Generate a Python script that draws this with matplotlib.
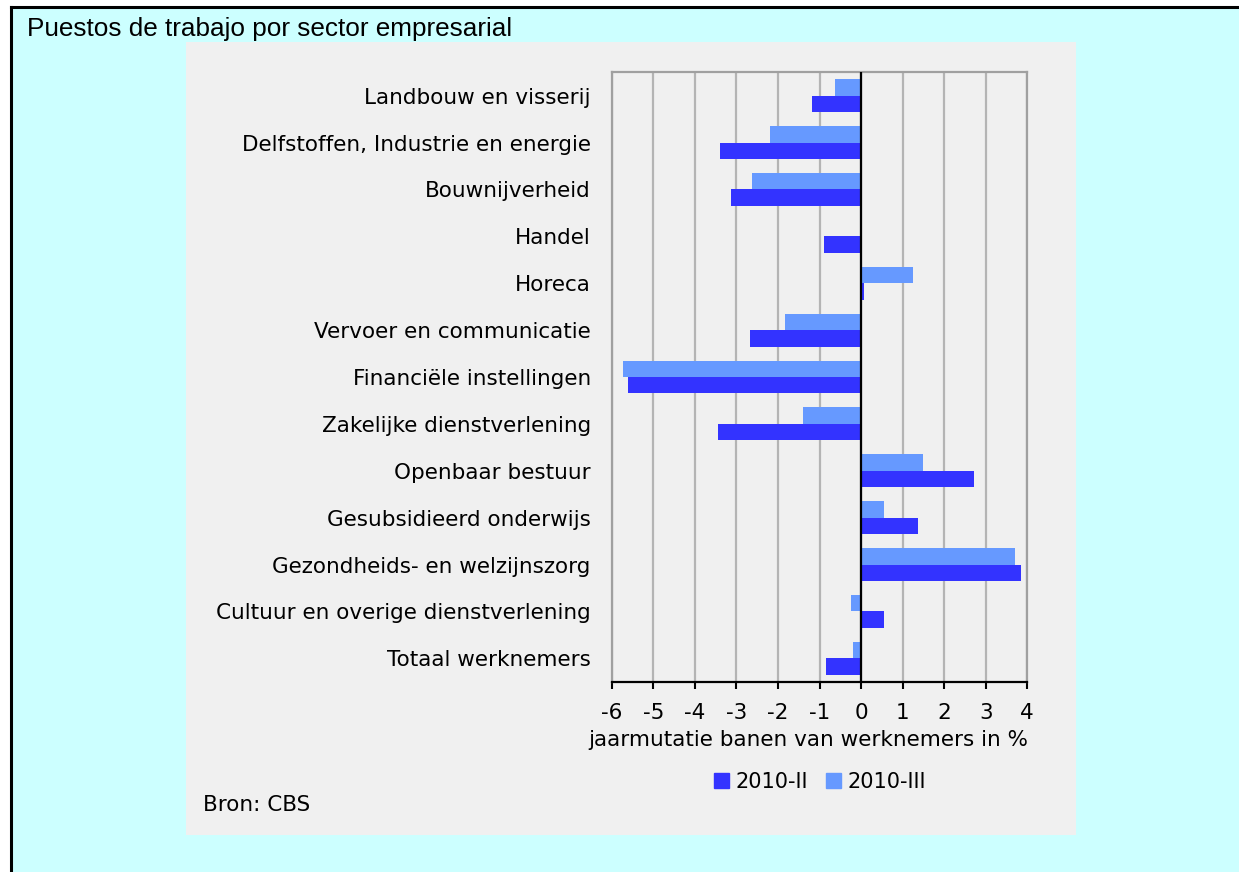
import numpy as np
import matplotlib.pyplot as plt
from matplotlib.patches import Rectangle
from matplotlib.lines import Line2D

# Data (jaarmutatie in %)
sectors = ['Landbouw en visserij',
           'Delfstoffen, Industrie en energie',
           'Bouwnijverheid',
           'Handel',
           'Horeca',
           'Vervoer en communicatie',
           'Financiële instellingen',
           'Zakelijke dienstverlening',
           'Openbaar bestuur',
           'Gesubsidieerd onderwijs',
           'Gezondheids- en welzijnszorg',
           'Cultuur en overige dienstverlening',
           'Totaal werknemers']
q2_2010 = [-1.17, -3.39, -3.12, -0.89, 0.07, -2.68, -5.61, -3.45, 2.72, 1.37, 3.86, 0.55, -0.84]
q3_2010 = [-0.63, -2.19, -2.63, 0.0, 1.26, -1.82, -5.72, -1.39, 1.48, 0.55, 3.70, -0.25, -0.19]
series_names = ['2010-II', '2010-III']
xticks = [-6, -5, -4, -3, -2, -1, 0, 1, 2, 3, 4]

W, H = 1239, 872
DARK = '#3333ff'
LIGHT = '#6699ff'
PANEL = '#f0f0f0'
FONT = 'DejaVu Sans'
FS = 15.5

fig = plt.figure(figsize=(W / 100, H / 100), dpi=100)
fig.patch.set_facecolor('white')

# cyan background with black border on top and left
fig.add_artist(Rectangle((11 / W, 0), 1, 1 - 8 / H, transform=fig.transFigure,
                         facecolor='#ccffff', edgecolor='none', zorder=0))
fig.add_artist(Line2D([10.5 / W, 1], [1 - 7.5 / H, 1 - 7.5 / H], transform=fig.transFigure,
                      color='black', lw=2.2, zorder=1))
fig.add_artist(Line2D([10.5 / W, 10.5 / W], [0, 1 - 7.5 / H], transform=fig.transFigure,
                      color='black', lw=2.2, zorder=1))
# grey chart panel
fig.add_artist(Rectangle((186 / W, 1 - 835.3 / H), (1075.7 - 186) / W, (835.3 - 42.3) / H,
                         transform=fig.transFigure, facecolor=PANEL, edgecolor='none', zorder=0))

fig.text(27 / W, 1 - 29 / H, 'Puestos de trabajo por sector empresarial',
         fontsize=18.8, family='Liberation Sans', va='center', ha='left')

ax = fig.add_axes([611.7 / W, 1 - 681.7 / H, (1027.3 - 611.7) / W, (681.7 - 72.3) / H])
ax.set_facecolor(PANEL)

y = np.arange(len(sectors))
h = 0.35
ax.barh(y - h / 2, q3_2010, height=h, color=LIGHT, zorder=2)
ax.barh(y + h / 2, q2_2010, height=h, color=DARK, zorder=2)
ax.axvline(0, color='black', lw=1.6, zorder=3)

ax.set_xlim(-6, 4)
ax.set_ylim(len(sectors) - 0.5, -0.5)
ax.set_xticks(xticks)
ax.set_xticklabels([str(t) for t in xticks], family=FONT, fontsize=FS)
ax.set_yticks(y)
ax.set_yticklabels(sectors, family=FONT, fontsize=FS)
ax.tick_params(axis='y', length=0, pad=15)
ax.tick_params(axis='x', direction='out', length=5, width=1.5, color='black', pad=10)

ax.grid(axis='x', color='#b4b4b4', lw=1.6, zorder=1)
ax.set_axisbelow(True)
for side in ['left', 'top', 'right']:
  ax.spines[side].set_color('#a0a0a0')
  ax.spines[side].set_linewidth(1.6)
ax.spines['bottom'].set_color('black')
ax.spines['bottom'].set_linewidth(1.6)

fig.text(808 / W, 1 - 740 / H, 'jaarmutatie banen van werknemers in %',
         family=FONT, fontsize=FS, ha='center', va='center')

handles = [Rectangle((0, 0), 1, 1, color=DARK), Rectangle((0, 0), 1, 1, color=LIGHT)]
fig.legend(handles, series_names, loc='center', bbox_to_anchor=(820 / W, 1 - 782 / H),
           ncol=2, frameon=False, prop={'family': FONT, 'size': 15},
           handlelength=0.7, handleheight=0.7, handletextpad=0.3, columnspacing=0.9)

fig.text(203 / W, 1 - 805 / H, 'Bron: CBS', family=FONT, fontsize=FS, ha='left', va='center')

plt.savefig('out.png', dpi=100)
